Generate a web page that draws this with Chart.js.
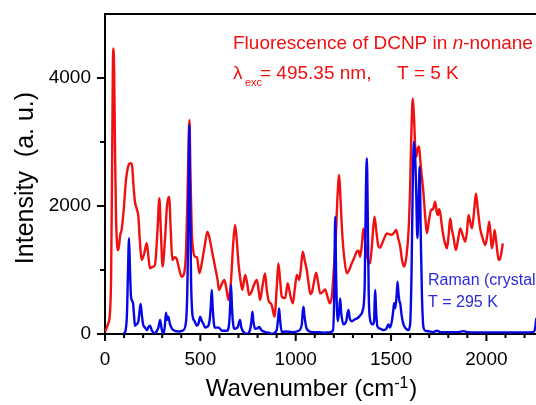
<!DOCTYPE html>
<html lang="en">
<head>
  <meta charset="UTF-8">
  <title>DCNP fluorescence / Raman</title>
  <style>
    body { margin: 0; background: #fff; }
  </style>
</head>
<body>
<canvas id="myChart" width="536" height="405"></canvas>
<script src="https://cdn.jsdelivr.net/npm/chart.js"></script>
<script>
  // fluorescence, n-nonane, 5 K
  const redX = [0,15,26,32,37,41,44,48,53,58,65,70,80,87,97,110,125,133,141,150,157,167,175,183,192,205,219,228,236,250,262,275,285,293,302,315,325,336,345,353,365,375,390,402,415,425,433,440,443,448,455,463,472,482,495,510,525,537,548,560,577,590,598,612,626,637,647,660,672,682,690,700,710,720,735,746,756,767,778,796,805,813,826,839,848,857,874,889,900,909,918,927,945,958,972,985,995,1006,1018,1028,1037,1047,1058,1067,1077,1085,1094,1107,1118,1128,1140,1154,1167,1180,1190,1198,1210,1220,1228,1235,1245,1256,1268,1280,1294,1308,1320,1330,1338,1347,1355,1362,1372,1380,1390,1400,1413,1423,1434,1443,1451,1465,1478,1490,1504,1515,1527,1537,1548,1558,1569,1580,1592,1600,1607,1614,1620,1627,1632,1640,1647,1653,1660,1670,1680,1688,1700,1710,1720,1731,1740,1746,1752,1758,1766,1775,1785,1793,1802,1810,1818,1828,1840,1850,1863,1875,1889,1898,1906,1915,1924,1935,1945,1955,1967,1980,1994,2005,2015,2022,2028,2036,2043,2053,2064,2072,2078,2086];
  const redY = [30,150,330,900,2500,4100,4460,4100,2800,1800,1350,1310,1550,1625,1900,2400,2650,2670,2650,2300,2070,1950,1833,1450,1156,1250,1417,1200,1026,1050,1080,1600,2120,1600,1052,1500,2000,2146,1600,1156,1200,1180,1000,895,950,1300,2200,3200,3344,2500,1600,1300,1208,1200,950,1150,1417,1600,1500,1312,1052,850,687,780,843,700,531,800,1400,1703,1500,1104,850,687,922,780,609,650,740,843,700,531,750,948,700,531,453,270,700,1104,850,583,560,792,600,479,700,922,843,1050,1286,1150,1000,800,625,650,780,958,800,635,650,698,580,479,600,922,1500,2200,2484,2100,1520,1150,948,1000,1104,1200,1286,1300,1208,1400,1651,1500,1250,1150,1104,1400,1833,1600,1365,1350,1400,1500,1573,1560,1550,1580,1625,1500,1365,1150,1052,1200,1625,2300,3200,3682,3400,2900,2770,2900,2930,2720,2500,2198,1800,1573,1800,1937,1950,2067,1900,1860,1950,1890,1700,1520,1400,1339,1550,1807,1650,1500,1312,1450,1651,1550,1443,1600,1859,1750,1651,1900,2198,1950,1651,1500,1390,1550,1755,1550,1340,1450,1625,1400,1156,1180,1260,1417];

  // Raman, crystal, 295 K
  const blueX = [93,105,115,120,126,131,136,140,147,152,157,165,175,182,187,193,200,210,220,228,236,245,255,262,270,280,289,297,306,313,320,326,332,341,352,367,390,411,425,433,438,442,446,451,456,460,470,481,490,499,508,516,525,540,550,556,560,565,575,596,613,640,652,657,661,666,672,679,695,703,708,715,727,745,760,768,773,778,787,800,808,820,839,860,874,900,908,913,918,927,950,980,1015,1032,1037,1041,1046,1058,1086,1120,1150,1175,1195,1202,1207,1212,1220,1228,1233,1238,1250,1265,1272,1277,1283,1294,1311,1325,1338,1352,1362,1368,1373,1378,1383,1390,1402,1411,1414,1417,1421,1428,1445,1460,1475,1486,1495,1504,1511,1516,1522,1529,1534,1540,1545,1548,1555,1565,1580,1590,1600,1607,1614,1620,1626,1632,1638,1644,1650,1656,1662,1670,1680,1700,1720,1740,1760,1800,1850,1880,1900,1950,2000,2100,2200,2245,2255,2262];
  const blueY = [0,30,300,900,1495,1000,600,530,480,300,130,150,200,380,470,300,150,100,60,110,130,60,20,0,40,100,220,80,0,100,333,220,270,150,80,50,40,60,200,900,2200,3265,2300,900,400,270,200,130,160,270,200,160,100,120,250,500,687,400,100,100,50,50,200,500,765,400,150,80,100,180,218,100,30,0,60,200,350,200,80,90,110,60,30,20,0,60,250,400,220,30,40,30,50,150,350,427,280,80,30,30,20,25,50,600,1833,900,200,350,557,350,150,200,330,375,250,200,230,250,290,375,800,2200,2745,1800,600,230,150,200,500,687,400,120,80,60,80,150,100,200,350,480,400,600,817,600,500,480,300,150,80,60,150,900,2400,3005,2800,2200,1500,2000,2614,1500,600,100,50,40,30,50,30,30,30,45,30,25,25,25,25,30,80,250];

  const xMin = 0, xMax = 2260;
  const yMin = 0, yMax = 5000;
  const xMajor = 500, xMinor = 100;
  const yMajor = 2000, yMinor = 1000;

  const FONT = '"Liberation Sans", Arial, sans-serif';
  const RED = '#f01010';
  const BLUE = '#0606e6';

  function toPoints(xs, ys) {
    let pts = [];
    for (let i = 0; i < xs.length; i++) {
      pts.push({x: xs[i], y: ys[i]});
    }
    return pts;
  }

  // frame, tick marks, titles and the two text notes
  const decor = {
    id: 'decor',
    afterDraw(chart) {
      const c = chart.ctx;
      const a = chart.chartArea;
      const sx = chart.scales.x;
      const sy = chart.scales.y;
      c.save();
      c.strokeStyle = '#000';
      c.lineWidth = 2;
      c.beginPath();
      c.moveTo(a.left - 1, a.top);
      c.lineTo(a.right + 2, a.top);
      for (let v = xMin; v <= xMax; v += xMinor) {
        const px = sx.getPixelForValue(v);
        c.moveTo(px, a.bottom);
        c.lineTo(px, a.bottom + (v % xMajor === 0 ? 7 : 4));
      }
      for (let v = yMin; v < yMax; v += yMinor) {
        const py = sy.getPixelForValue(v);
        c.moveTo(a.left, py);
        c.lineTo(a.left - (v % yMajor === 0 ? 8 : 5), py);
      }
      c.stroke();

      // axis titles
      c.fillStyle = '#000';
      c.textBaseline = 'alphabetic';
      c.font = '24px ' + FONT;
      const t1 = 'Wavenumber (cm', t2 = ')';
      const w1 = c.measureText(t1).width, w2 = c.measureText(t2).width;
      c.font = '16px ' + FONT;
      const ws = c.measureText('-1').width;
      let tx = 311 - (w1 + ws + w2) / 2;
      c.font = '24px ' + FONT;
      c.fillText(t1, tx, 396);
      c.font = '16px ' + FONT;
      c.fillText('-1', tx + w1, 388);
      c.font = '24px ' + FONT;
      c.fillText(t2, tx + w1 + ws + 1, 396);

      c.save();
      c.translate(33, 178);
      c.rotate(-Math.PI / 2);
      c.textAlign = 'center';
      c.font = '25px ' + FONT;
      c.fillText('Intensity  (a. u.)', 0, 0);
      c.restore();

      // fluorescence note
      c.fillStyle = RED;
      c.textAlign = 'left';
      c.font = '19px ' + FONT;
      let s = 'Fluorescence of DCNP in ';
      c.fillText(s, 233, 49);
      let x = 233 + c.measureText(s).width;
      c.font = 'italic 19px ' + FONT;
      c.fillText('n', x, 49);
      x += c.measureText('n').width;
      c.font = '19px ' + FONT;
      c.fillText('-nonane', x, 49);

      c.fillText('\u03bb', 233, 79);
      c.font = '11px ' + FONT;
      c.fillText('exc', 245, 86);
      c.font = '19px ' + FONT;
      c.fillText('= 495.35 nm,', 260, 79);
      c.fillText('T = 5 K', 397, 79);

      // raman note
      c.fillStyle = '#2b2bd6';
      c.font = '16px ' + FONT;
      c.fillText('Raman (crystal)', 428, 285);
      c.fillText('T = 295 K', 428, 307);
      c.restore();
    }
  };

  const ctx = document.getElementById('myChart');

  const myChart = new Chart(ctx, {
    type: 'line',
    data: {
      datasets: [
        {
          label: 'Raman',
          data: toPoints(blueX, blueY),
          borderColor: BLUE,
          borderWidth: 2.4,
          pointRadius: 0,
          cubicInterpolationMode: 'monotone',
          fill: false,
          order: 0
        },
        {
          label: 'Fluorescence',
          data: toPoints(redX, redY),
          borderColor: RED,
          borderWidth: 2.4,
          pointRadius: 0,
          cubicInterpolationMode: 'monotone',
          fill: false,
          order: 1
        }
      ]
    },
    options: {
      responsive: false,
      animation: false,
      events: [],
      layout: {
        padding: {top: 14, right: 0, left: 0, bottom: 0}
      },
      plugins: {
        legend: {display: false},
        tooltip: {enabled: false}
      },
      scales: {
        x: {
          type: 'linear',
          min: xMin,
          max: xMax,
          grid: {display: false, drawTicks: false},
          border: {display: true, color: '#000', width: 2},
          ticks: {
            stepSize: xMinor,
            autoSkip: false,
            maxRotation: 0,
            padding: 14,
            color: '#000',
            font: {family: FONT, size: 19},
            callback: (v) => (v % xMajor === 0 ? v : '')
          },
          afterFit: (s) => {
            s.height = 71;
            s.paddingLeft = 0;
            s.paddingRight = 0;
          }
        },
        y: {
          min: yMin,
          max: yMax,
          grid: {display: false, drawTicks: false},
          border: {display: true, color: '#000', width: 2},
          ticks: {
            stepSize: yMinor,
            padding: 14,
            color: '#000',
            font: {family: FONT, size: 19},
            callback: (v) => (v % yMajor === 0 && v < yMax ? v : '')
          },
          afterFit: (s) => {
            s.width = 105;
            s.paddingTop = 0;
            s.paddingBottom = 0;
          }
        }
      }
    },
    plugins: [decor]
  });
</script>
</body>
</html>
